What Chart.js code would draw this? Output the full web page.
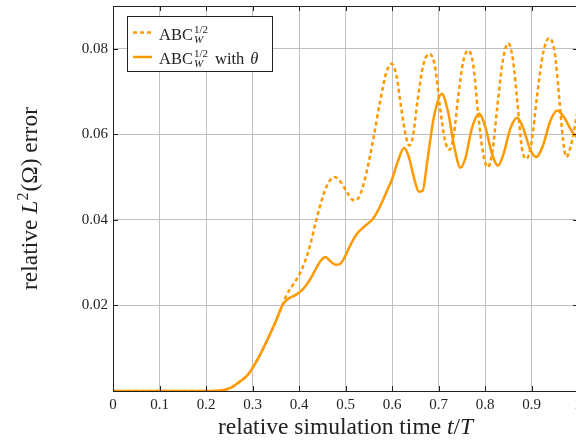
<!DOCTYPE html>
<html>
<head>
<meta charset="utf-8">
<script src="https://cdn.jsdelivr.net/npm/chart.js@4.4.1/dist/chart.umd.min.js"></script>
<style>
html,body{margin:0;padding:0;overflow:hidden;background:#fff;}
#wrap{width:600px;height:444px;position:relative;}
</style>
</head>
<body>
<div id="wrap"><canvas id="c"></canvas></div>
<script>
// ---- data ----
const tDash = [0,0.1,0.2,0.23,0.25,0.27,0.29,0.31,0.33,0.35,0.365,0.373,0.385,0.40,0.412,0.423,0.437,0.452,0.465,0.477,0.49,0.503,0.514,0.522,0.532,0.545,0.56,0.575,0.588,0.599,0.61,0.62,0.63,0.637,0.645,0.655,0.668,0.681,0.693,0.703,0.714,0.724,0.733,0.742,0.753,0.764,0.775,0.785,0.796,0.806,0.816,0.826,0.838,0.850,0.86,0.87,0.879,0.889,0.9,0.912,0.925,0.938,0.95,0.96,0.968,0.975,0.985,1.0];
const vDash = [0,0,0,0.0001,0.0006,0.002,0.0038,0.0072,0.0115,0.0163,0.0202,0.0224,0.0245,0.0271,0.0300,0.0337,0.0399,0.0457,0.0490,0.0500,0.0488,0.0465,0.0448,0.0446,0.0460,0.0510,0.0590,0.0680,0.0745,0.0765,0.0735,0.0660,0.0595,0.0574,0.0595,0.0680,0.0765,0.0788,0.0755,0.0665,0.0585,0.0564,0.0600,0.0685,0.0770,0.0796,0.0760,0.0650,0.0555,0.0523,0.0560,0.0660,0.0770,0.0813,0.0775,0.0670,0.0570,0.0543,0.0580,0.0690,0.0790,0.0825,0.0790,0.0680,0.0585,0.0547,0.0575,0.0660];
const tSolid = [0,0.1,0.2,0.23,0.25,0.27,0.29,0.31,0.33,0.35,0.365,0.375,0.39,0.40,0.41,0.423,0.437,0.447,0.457,0.468,0.478,0.487,0.497,0.51,0.525,0.538,0.55,0.56,0.575,0.59,0.6,0.612,0.626,0.636,0.648,0.658,0.666,0.675,0.69,0.707,0.72,0.735,0.747,0.758,0.772,0.787,0.80,0.815,0.828,0.84,0.855,0.869,0.882,0.897,0.91,0.925,0.94,0.955,0.97,0.985,1.0];
const vSolid = [0,0,0,0.0001,0.0006,0.002,0.0038,0.0072,0.0115,0.0163,0.0202,0.0214,0.0223,0.0230,0.0240,0.0259,0.0287,0.0305,0.0313,0.0303,0.0295,0.0296,0.0310,0.0340,0.0368,0.0382,0.0393,0.0404,0.0433,0.0470,0.0495,0.0535,0.0568,0.0548,0.0495,0.0466,0.0468,0.0530,0.0640,0.0695,0.0655,0.0565,0.0522,0.0545,0.0615,0.0648,0.0620,0.0555,0.0527,0.0555,0.0615,0.0639,0.0615,0.0565,0.0547,0.0575,0.0630,0.0656,0.0640,0.0610,0.0590];
const seriesNames = ['ABC_W^{1/2}', 'ABC_W^{1/2} with \u03b8'];
const xTicks = [0,0.1,0.2,0.3,0.4,0.5,0.6,0.7,0.8,0.9,1];
const yTicks = [0.02,0.04,0.06,0.08];
// axis titles as [text, style] runs: n = normal, i = italic, s = superscript
const xTitleRuns = [['relative simulation time ','n'],['t','i'],['/','n'],['T','i']];
const yTitleRuns = [['relative ','n'],['L','i'],['2','s'],['(\u03a9) error','n']];

const ORANGE = 'rgb(255,153,0)';
const SERIF = '"Liberation Serif", "DejaVu Serif", serif';
const TITLE_SIZE = 23.5;

function pts(t, v){ return t.map((x,i)=>({x:x, y:v[i]})); }

function runFont(style){
  if (style==='i') return 'italic '+TITLE_SIZE+'px '+SERIF;
  if (style==='s') return Math.round(TITLE_SIZE*0.68)+'px '+SERIF;
  return TITLE_SIZE+'px '+SERIF;
}
function drawRuns(ctx, runs, cx, base){
  let total = 0;
  runs.forEach(r=>{ ctx.font = runFont(r[1]); total += ctx.measureText(r[0]).width + (r[1]==='s'?1:0); });
  let x = cx - total/2;
  runs.forEach(r=>{
    ctx.font = runFont(r[1]);
    ctx.fillText(r[0], x, r[1]==='s' ? base - TITLE_SIZE*0.4 : base);
    x += ctx.measureText(r[0]).width + (r[1]==='s'?1:0);
  });
}

const frame = {
  id:'frame',
  afterDatasetsDraw(chart){
    const {ctx, chartArea:a, scales:{x,y}} = chart;
    ctx.save();
    ctx.strokeStyle = '#222';
    ctx.lineWidth = 1;
    ctx.beginPath();
    ctx.moveTo(a.left, a.top+0.5); ctx.lineTo(a.right, a.top+0.5);
    ctx.moveTo(a.right-0.5, a.top); ctx.lineTo(a.right-0.5, a.bottom);
    xTicks.forEach(v=>{ const px=Math.round(x.getPixelForValue(v))+0.5;
      ctx.moveTo(px,a.bottom); ctx.lineTo(px,a.bottom-5);
      ctx.moveTo(px,a.top); ctx.lineTo(px,a.top+5); });
    yTicks.forEach(v=>{ const py=Math.round(y.getPixelForValue(v))+0.5;
      ctx.moveTo(a.left,py); ctx.lineTo(a.left+5,py);
      ctx.moveTo(a.right,py); ctx.lineTo(a.right-5,py); });
    ctx.stroke();
    ctx.restore();
  },
  afterDraw(chart){
    const ctx = chart.ctx, a = chart.chartArea;
    ctx.save();
    ctx.fillStyle='#222'; ctx.textBaseline='alphabetic'; ctx.textAlign='left';
    // axis titles
    drawRuns(ctx, xTitleRuns, (a.left+a.right)/2, 434);
    ctx.save();
    ctx.translate(37, (a.top+a.bottom)/2);
    ctx.rotate(-Math.PI/2);
    drawRuns(ctx, yTitleRuns, 0, 0);
    ctx.restore();
    // legend box
    const bx=127.5, by=16.5, bw=145, bh=55;
    ctx.fillStyle='#fff'; ctx.fillRect(bx,by,bw,bh);
    ctx.strokeStyle='#222'; ctx.lineWidth=1; ctx.strokeRect(bx,by,bw,bh);
    const rows = [{y:32.5, dash:[4,3]}, {y:57, dash:[]}];
    rows.forEach((r,i)=>{
      ctx.strokeStyle=ORANGE; ctx.lineWidth=2.5; ctx.setLineDash(r.dash);
      ctx.beginPath(); ctx.moveTo(133,r.y); ctx.lineTo(152,r.y); ctx.stroke();
      ctx.setLineDash([]);
      const base = r.y+7;
      ctx.fillStyle='#222';
      let xx = 159;
      ctx.font = '16.5px '+SERIF;
      ctx.fillText('ABC', xx, base);
      xx += ctx.measureText('ABC').width + 1;
      ctx.font = '11px '+SERIF;
      ctx.fillText('1/2', xx, base-7);
      const w1 = ctx.measureText('1/2').width;
      ctx.font = 'italic 11px '+SERIF;
      ctx.fillText('W', xx, base+3);
      const w2 = ctx.measureText('W').width;
      xx += Math.max(w1,w2);
      if (seriesNames[i].indexOf('with')>=0){
        ctx.font = '16.5px '+SERIF;
        xx += 7;
        ctx.fillText('with', xx, base);
        xx += ctx.measureText('with').width + 6;
        ctx.font = 'italic 16.5px '+SERIF;
        ctx.fillText('\u03b8', xx, base);
      }
    });
    ctx.restore();
  }
};

new Chart(document.getElementById('c'), {
  type:'line',
  data:{
    datasets:[
      {label:seriesNames[0], data:pts(tDash,vDash), borderColor:ORANGE, borderWidth:2.5, borderDash:[4,3], pointRadius:0, cubicInterpolationMode:'monotone', fill:false},
      {label:seriesNames[1], data:pts(tSolid,vSolid), borderColor:ORANGE, borderWidth:2.5, pointRadius:0, cubicInterpolationMode:'monotone', fill:false}
    ]
  },
  plugins:[frame],
  options:{
    responsive:true, maintainAspectRatio:false, animation:false,
    layout:{padding:{left:0, top:6, right:22, bottom:0}},
    plugins:{legend:{display:false}, tooltip:{enabled:false}},
    scales:{
      x:{type:'linear', min:0, max:1,
        afterBuildTicks(s){ s.ticks = xTicks.map(v=>({value:v})); },
        afterFit(s){ s.height = 53; s.paddingLeft = 0; s.paddingRight = 0; },
        grid:{color:'rgb(192,192,192)', lineWidth:1, drawTicks:false},
        border:{color:'#222', width:1},
        ticks:{padding:5, color:'#222', font:{family:SERIF, size:15}, maxRotation:0, autoSkip:false,
          callback:(v)=>String(Number(Number(v).toFixed(1)))},
        title:{display:false}
      },
      y:{type:'linear', min:0, max:0.09,
        afterBuildTicks(s){ s.ticks = [0].concat(yTicks).concat([0.09]).map(v=>({value:v})); },
        afterFit(s){ s.width = 113; s.paddingTop = 0; s.paddingBottom = 0; },
        grid:{color:'rgb(192,192,192)', lineWidth:1, drawTicks:false},
        border:{color:'#222', width:1},
        ticks:{padding:5, color:'#222', font:{family:SERIF, size:15}, autoSkip:false,
          callback:(v)=> yTicks.some(t=>Math.abs(t-v)<1e-9) ? Number(v).toFixed(2) : ''},
        title:{display:false}
      }
    }
  }
});
</script>
</body>
</html>
